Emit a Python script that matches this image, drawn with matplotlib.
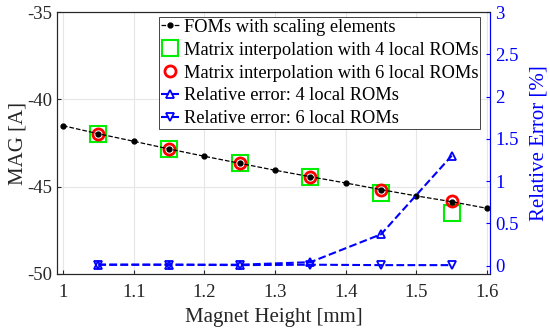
import matplotlib
matplotlib.use("Agg")
import matplotlib.pyplot as plt
import numpy as np

plt.rcParams['font.family'] = ['Liberation Serif', 'DejaVu Serif']
plt.rcParams['mathtext.fontset'] = 'stix'
plt.rcParams['axes.unicode_minus'] = False

x_fom = [1.0, 1.05, 1.1, 1.15, 1.2, 1.25, 1.3, 1.35, 1.4, 1.45, 1.5, 1.55, 1.6]
mag_fom = [-41.51, -41.97, -42.40, -42.84, -43.26, -43.66, -44.06, -44.43, -44.79, -45.17, -45.53, -45.86, -46.24]

x_rom = [1.05, 1.15, 1.25, 1.35, 1.45, 1.55]
mag_rom4 = [-41.97, -42.84, -43.66, -44.43, -45.34, -46.49]
mag_rom6 = [-41.97, -42.84, -43.66, -44.43, -45.19, -45.82]
err_rom4 = [0.01, 0.01, 0.01, 0.04, 0.37, 1.30]
err_rom6 = [0.01, 0.01, 0.005, 0.01, 0.005, 0.005]

xticks = [1, 1.1, 1.2, 1.3, 1.4, 1.5, 1.6]
yticks_left = [-50, -45, -40, -35]
yticks_right = [0, 0.5, 1, 1.5, 2, 2.5, 3]

fig = plt.figure(figsize=(5.5, 3.3), dpi=100)
ax = fig.add_axes([0.1036, 0.1697, 0.891 - 0.1036, 0.9636 - 0.1697])
ax2 = ax.twinx()

blue = '#0000ff'
h1, = ax.plot(x_fom, mag_fom, '--', color='k', lw=0.9, marker='o', ms=3.5,
              mfc='k', mec='k', zorder=5, label='FOMs with scaling elements')
h2, = ax.plot(x_rom, mag_rom4, 's', ls='none', ms=12, mfc='none', mec='#00ee00',
              mew=1.5, zorder=3, label='Matrix interpolation with 4 local ROMs')
h3, = ax.plot(x_rom, mag_rom6, 'o', ls='none', ms=8, mfc='none', mec='#ff0000',
              mew=2.0, zorder=4, label='Matrix interpolation with 6 local ROMs')
h4, = ax2.plot(x_rom, err_rom4, '--', color=blue, lw=1.5, marker='^', ms=6,
               mfc='none', mec=blue, mew=1.3, label='Relative error: 4 local ROMs')
h5, = ax2.plot(x_rom, err_rom6, '--', color=blue, lw=1.5, marker='v', ms=6,
               mfc='none', mec=blue, mew=1.3, label='Relative error: 6 local ROMs')

ax.set_xlim(0.9915, 1.6042)
ax.set_ylim(-50, -35)
ax2.set_ylim(-0.1, 3.0)
ax.set_xticks(xticks)
ax.set_xticklabels([f'{v:g}' for v in xticks])
ax.set_yticks(yticks_left)
ax2.set_yticks(yticks_right)
ax2.set_yticklabels([f'{v:g}' for v in yticks_right])

ax.grid(True, color='#e6e6e6', lw=0.8)
ax.set_axisbelow(True)

fs = 13.5
ax.tick_params(direction='in', labelsize=fs, length=3, colors='#262626', top=False)
ax.tick_params(axis='x', pad=7)
ax2.tick_params(direction='in', labelsize=fs, length=3, colors=blue)
for s in ['top', 'bottom', 'left']:
    ax.spines[s].set_color('#262626')
    ax2.spines[s].set_color('#262626')
ax2.spines['right'].set_color(blue)
ax.spines['right'].set_color(blue)

ax.set_xlabel('Magnet Height [mm]', fontsize=15, color='#262626', labelpad=5)
ax.set_ylabel('MAG [A]', fontsize=15, color='#262626', labelpad=0)
ax2.set_ylabel('Relative Error [%]', fontsize=15, color=blue, labelpad=8)

leg = ax2.legend(handles=[h1, h2, h3, h4, h5], loc='upper right',
                 bbox_to_anchor=(0.985, 0.995), fontsize=13.2, fancybox=False,
                 edgecolor='#262626', framealpha=1, borderpad=0.1,
                 labelspacing=0.32, handlelength=1.0, handletextpad=0.25,
                 borderaxespad=0.2)
leg.get_frame().set_linewidth(0.6)

fig.savefig('out.png', dpi=100)
